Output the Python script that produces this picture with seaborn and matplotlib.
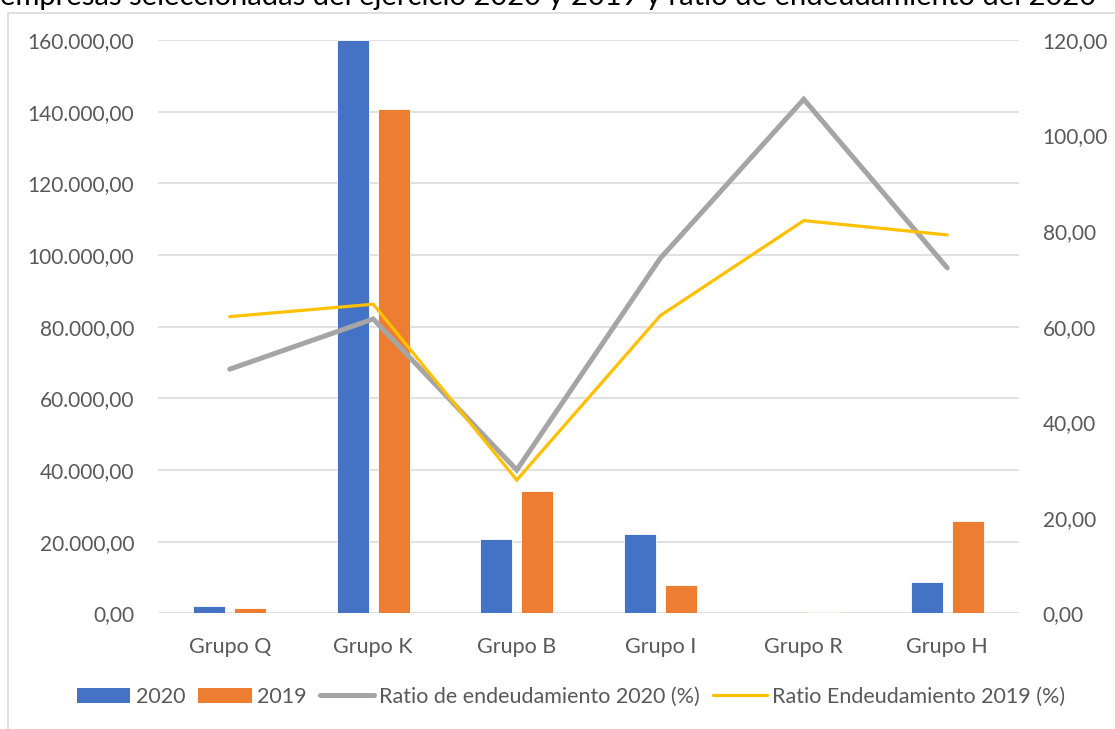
import numpy as np
import pandas as pd
import matplotlib
matplotlib.use("Agg")
import matplotlib.pyplot as plt
from matplotlib.patches import Rectangle, Patch
from matplotlib.lines import Line2D
from matplotlib.ticker import FuncFormatter, MultipleLocator
import seaborn as sns

# Data
grupos = ['Grupo Q', 'Grupo K', 'Grupo B', 'Grupo I', 'Grupo R', 'Grupo H']
valor_2020 = [1950, 160000, 20700, 22200, 0, 8800]
valor_2019 = [1400, 140800, 34000, 7800, 250, 25800]
ratio_2020 = [51.1, 61.6, 30.0, 74.3, 107.6, 72.3]
ratio_2019 = [62.1, 64.7, 27.9, 62.3, 82.2, 79.2]

titulo = 'empresas seleccionadas del ejercicio 2020 y 2019 y ratio de endeudamiento del 2020'

c_2020 = '#4472C4'
c_2019 = '#ED7D31'
c_r2020 = '#A5A5A5'
c_r2019 = '#FFC000'
txt = '#595959'

sns.set_theme(style='white')
plt.rcParams['font.family'] = ['Lato', 'DejaVu Sans']

bars = pd.DataFrame({
    'grupo': grupos * 2,
    'valor': valor_2020 + valor_2019,
    'anio': ['2020'] * len(grupos) + ['2019'] * len(grupos),
})
lines = pd.DataFrame({
    'pos': np.arange(len(grupos)),
    'r2020': ratio_2020,
    'r2019': ratio_2019,
})

fig = plt.figure(figsize=(11.15, 7.29), dpi=100)
ax = fig.add_axes([0.1417, 0.1587, 0.7722, 0.7864])

sns.barplot(data=bars, x='grupo', y='valor', hue='anio', order=grupos,
            hue_order=['2020', '2019'], palette=[c_2020, c_2019],
            width=0.572, gap=0.22, ax=ax, legend=False, saturation=1,
            edgecolor='white', linewidth=0.6)

ax.set_ylim(0, 160000)
ax.set_xlim(-0.5, len(grupos) - 0.5)
ax.yaxis.set_major_locator(MultipleLocator(20000))
ax.yaxis.set_major_formatter(FuncFormatter(
    lambda v, p: f'{v:,.2f}'.replace(',', 'X').replace('.', ',').replace('X', '.')))
ax.grid(axis='y', color='#d9d9d9', linewidth=1.1)
ax.set_axisbelow(True)
ax.set_xlabel('')
ax.set_ylabel('')
for s in ax.spines.values():
    s.set_visible(False)
ax.tick_params(axis='y', length=0, pad=17, labelsize=15, labelcolor=txt)
ax.tick_params(axis='x', length=0, pad=17, labelsize=15.5, labelcolor=txt)

ax2 = ax.twinx()
sns.lineplot(data=lines, x='pos', y='r2020', ax=ax2, color=c_r2020,
             linewidth=3.6, solid_capstyle='round', solid_joinstyle='miter')
sns.lineplot(data=lines, x='pos', y='r2019', ax=ax2, color=c_r2019,
             linewidth=2.3, solid_capstyle='round', solid_joinstyle='miter')
ax2.set_ylim(0, 120)
ax2.yaxis.set_major_locator(MultipleLocator(20))
ax2.yaxis.set_major_formatter(FuncFormatter(lambda v, p: f'{v:.2f}'.replace('.', ',')))
ax2.set_xlabel('')
ax2.set_ylabel('')
ax2.grid(False)
for s in ax2.spines.values():
    s.set_visible(False)
ax2.tick_params(axis='y', length=0, pad=17, labelsize=15, labelcolor=txt)
ax.set_xlim(-0.5, len(grupos) - 0.5)

# chart frame (cut at right/bottom) and title, cut at the top as in the reference
fig.patches.append(Rectangle((8 / 1115, -0.1), 1.2, 0.1 + 1 - 13 / 729,
                             transform=fig.transFigure, fill=False,
                             edgecolor='#d9d9d9', linewidth=1.2))
fig.text(0.0, 1 - 5 / 729, titulo, fontsize=21, color='black', va='baseline', ha='left')

handles = [
    Patch(facecolor=c_2020, edgecolor='none'),
    Patch(facecolor=c_2019, edgecolor='none'),
    Line2D([0], [0], color=c_r2020, linewidth=3.6, solid_capstyle='round'),
    Line2D([0], [0], color=c_r2019, linewidth=2.3, solid_capstyle='round'),
]
labels = ['2020', '2019', 'Ratio de endeudamiento 2020 (%)', 'Ratio Endeudamiento 2019 (%)']
fig.legend(handles, labels, loc='center', bbox_to_anchor=(0.512, 1 - 697 / 729),
           ncol=4, frameon=False, fontsize=15.5, labelcolor=txt,
           handlelength=2.5, handleheight=0.7, handletextpad=0.25, columnspacing=0.6)

fig.savefig('out.png', dpi=100)
